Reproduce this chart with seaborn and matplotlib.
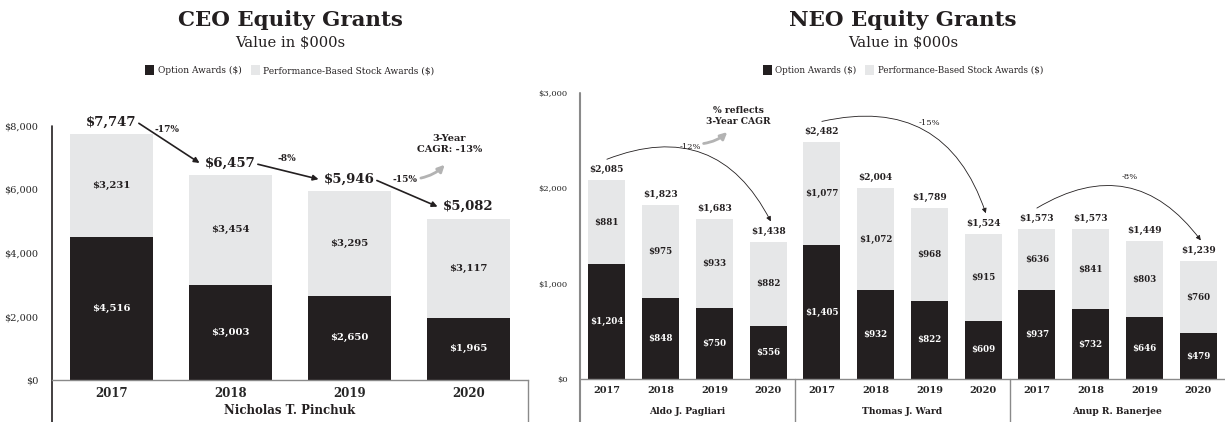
import numpy as np
import pandas as pd
import matplotlib
matplotlib.use("Agg")
import matplotlib.pyplot as plt
import seaborn as sns
from matplotlib.patches import Patch

# ---- data (values in $000s) ----
years = ["2017", "2018", "2019", "2020"]

ceo_name = "Nicholas T. Pinchuk"
ceo_option = [4516, 3003, 2650, 1965]
ceo_psa = [3231, 3454, 3295, 3117]
ceo_total = [7747, 6457, 5946, 5082]
ceo_change = ["-17%", "-8%", "-15%"]
ceo_cagr = "-13%"

neo_names = ["Aldo J. Pagliari", "Thomas J. Ward", "Anup R. Banerjee"]
neo_option = [[1204, 848, 750, 556], [1405, 932, 822, 609], [937, 732, 646, 479]]
neo_psa = [[881, 975, 933, 882], [1077, 1072, 968, 915], [636, 841, 803, 760]]
neo_total = [[2085, 1823, 1683, 1438], [2482, 2004, 1789, 1524], [1573, 1573, 1449, 1239]]
neo_cagr = ["-12%", "-15%", "-8%"]

series_names = ["Option Awards ($)", "Performance-Based Stock Awards ($)"]

BLACK = "#231f20"
GRAY = "#e6e7e8"
AXIS = "#8a8a8a"
ARROW_GRAY = "#b3b3b3"

sns.set_style("white")
plt.rcParams["font.family"] = ["DejaVu Serif"]
plt.rcParams["text.color"] = BLACK

W, H = 1225, 422
fig = plt.figure(figsize=(W / 100, H / 100), dpi=100)


def money(v):
    return "${:,}".format(v)


def legend_at(xc, fs):
    handles = [Patch(facecolor=BLACK, edgecolor="none", label=series_names[0]),
               Patch(facecolor=GRAY, edgecolor="none", label=series_names[1])]
    fig.legend(handles=handles, loc="center", bbox_to_anchor=(xc / W, 1 - 70 / H),
               ncol=2, frameon=False, fontsize=fs, handlelength=1.0, handleheight=1.4,
               handletextpad=0.4, columnspacing=1.0, borderaxespad=0)


# ================= CEO chart =================
ax1 = fig.add_axes([52 / W, 42 / H, 476 / W, 254 / H])
ceo_df = pd.DataFrame({"year": years, "option": ceo_option, "psa": ceo_psa})
ceo_df["stack"] = ceo_df["option"] + ceo_df["psa"]

sns.barplot(data=ceo_df, x="year", y="stack", color=GRAY, saturation=1, width=0.7,
            linewidth=0, errorbar=None, ax=ax1)
sns.barplot(data=ceo_df, x="year", y="option", color=BLACK, saturation=1, width=0.7,
            linewidth=0, errorbar=None, ax=ax1)

ax1.set_xlim(-0.5, 3.5)
ax1.set_ylim(0, 8000)
ax1.set_yticks(range(0, 8001, 2000))
ax1.set_yticklabels([money(v) for v in range(0, 8001, 2000)], fontsize=7)
ax1.set_xticks(range(4))
ax1.set_xticklabels(years, fontsize=8.5, fontweight="bold")
ax1.tick_params(axis="both", length=0)
ax1.tick_params(axis="y", pad=10)
ax1.tick_params(axis="x", pad=5)
ax1.set_xlabel("")
ax1.set_ylabel("")
for s in ["top", "right", "left"]:
    ax1.spines[s].set_visible(False)
ax1.spines["bottom"].set_color(AXIS)
ax1.spines["bottom"].set_linewidth(1)
ax1.plot([0, 0], [-0.165, 1.0], transform=ax1.transAxes, color=BLACK, lw=1.2, clip_on=False)
ax1.plot([1, 1], [-0.165, 0.0], transform=ax1.transAxes, color=AXIS, lw=1, clip_on=False)
ax1.text(0.5, -0.122, ceo_name, transform=ax1.transAxes, ha="center", va="center",
         fontsize=8.5, fontweight="bold")

for i in range(4):
    o, p = ceo_option[i], ceo_psa[i]
    ax1.text(i, o / 2, money(o), ha="center", va="center", color="white",
             fontsize=7.2, fontweight="bold")
    ax1.text(i, o + p / 2, money(p), ha="center", va="center", color=BLACK,
             fontsize=7.2, fontweight="bold")

lab_y = [t + 378 for t in ceo_total]
for i in range(4):
    ax1.text(i, lab_y[i], money(ceo_total[i]), ha="center", va="center",
             fontsize=9.5, fontweight="bold", clip_on=False)
for i in range(3):
    ax1.annotate("", xy=(i + 1 - 0.26, lab_y[i + 1]), xytext=(i + 0.23, lab_y[i] - 40),
                 arrowprops=dict(arrowstyle="-|>", color=BLACK, lw=1.2, mutation_scale=8,
                                 shrinkA=0, shrinkB=0), annotation_clip=False)
    ax1.text(i + 0.47, (lab_y[i] + lab_y[i + 1]) / 2 + 410, ceo_change[i], ha="center",
             va="center", fontsize=6.5, fontweight="bold")

ax1.text(2.84, 7433, "3-Year\nCAGR: " + ceo_cagr, ha="center", va="center",
         fontsize=7, fontweight="bold", linespacing=1.25)
ax1.annotate("", xy=(2.8, 6780), xytext=(2.6, 6360),
             arrowprops=dict(arrowstyle="-|>", color=ARROW_GRAY, lw=2, mutation_scale=10,
                             connectionstyle="arc3,rad=0.15", shrinkA=0, shrinkB=0))

fig.text(290 / W, 1 - 20 / H, "CEO Equity Grants", ha="center", va="center",
         fontsize=15.4, fontweight="bold")
fig.text(290 / W, 1 - 43 / H, "Value in $000s", ha="center", va="center", fontsize=10.6)
legend_at(290, 6.5)

# ================= NEO chart =================
ax2 = fig.add_axes([580 / W, 43 / H, 645 / W, 286 / H])
rows = []
for g, name in enumerate(neo_names):
    for j, yr in enumerate(years):
        rows.append({"key": name + " " + yr, "year": yr, "name": name,
                     "option": neo_option[g][j], "psa": neo_psa[g][j]})
neo_df = pd.DataFrame(rows)
neo_df["stack"] = neo_df["option"] + neo_df["psa"]
order = list(neo_df["key"])

sns.barplot(data=neo_df, x="key", y="stack", order=order, color=GRAY, saturation=1,
            width=0.69, linewidth=0, errorbar=None, ax=ax2)
sns.barplot(data=neo_df, x="key", y="option", order=order, color=BLACK, saturation=1,
            width=0.69, linewidth=0, errorbar=None, ax=ax2)

ax2.set_xlim(-0.5, 11.5)
ax2.set_ylim(0, 3000)
ax2.set_yticks(range(0, 3001, 1000))
ax2.set_yticklabels([money(v) for v in range(0, 3001, 1000)], fontsize=6)
ax2.set_xticks(range(12))
ax2.set_xticklabels(list(neo_df["year"]), fontsize=7, fontweight="bold")
ax2.tick_params(axis="both", length=0)
ax2.tick_params(axis="y", pad=9)
ax2.tick_params(axis="x", pad=5)
ax2.set_xlabel("")
ax2.set_ylabel("")
for s in ["top", "right", "left"]:
    ax2.spines[s].set_visible(False)
ax2.spines["bottom"].set_color(AXIS)
ax2.spines["bottom"].set_linewidth(1)
ax2.plot([0, 0], [-0.15, 1.0], transform=ax2.transAxes, color=AXIS, lw=1.5, clip_on=False)
trans = ax2.get_xaxis_transform()
for g in range(3):
    if g > 0:
        ax2.plot([4 * g - 0.5] * 2, [-0.15, 0.0], transform=trans, color=AXIS, lw=1,
                 clip_on=False)
    ax2.text(4 * g + 1.5, -0.113, neo_names[g], transform=trans, ha="center", va="center",
             fontsize=6.6, fontweight="bold")

for k in range(12):
    o, p = neo_df.loc[k, "option"], neo_df.loc[k, "psa"]
    ax2.text(k, o / 2, money(int(o)), ha="center", va="center", color="white",
             fontsize=6.2, fontweight="bold")
    ax2.text(k, o + p / 2, money(int(p)), ha="center", va="center", color=BLACK,
             fontsize=6.2, fontweight="bold")

for g in range(3):
    tots = neo_total[g]
    for j in range(4):
        ax2.text(4 * g + j, tots[j] + 110, money(tots[j]), ha="center", va="center",
                 fontsize=6.5, fontweight="bold", clip_on=False)
    ax2.annotate("", xy=(4 * g + 3.05, tots[3] + 215), xytext=(4 * g + 0.0, tots[0] + 220),
                 arrowprops=dict(arrowstyle="-|>", color=BLACK, lw=0.6, mutation_scale=7,
                                 connectionstyle="arc3,rad=-0.45", shrinkA=0, shrinkB=0),
                 annotation_clip=False)

cagr_pos = [(1.55, 2434), (6.01, 2685), (9.73, 2119)]
for g in range(3):
    ax2.text(cagr_pos[g][0], cagr_pos[g][1], neo_cagr[g], ha="center", va="center",
             fontsize=6)

ax2.text(2.44, 2759, "% reflects\n3-Year CAGR", ha="center", va="center",
         fontsize=6.6, fontweight="bold", linespacing=1.3)
ax2.annotate("", xy=(2.24, 2590), xytext=(1.8, 2470),
             arrowprops=dict(arrowstyle="-|>", color=ARROW_GRAY, lw=2, mutation_scale=10,
                             connectionstyle="arc3,rad=0.15", shrinkA=0, shrinkB=0))

fig.text(903 / W, 1 - 20 / H, "NEO Equity Grants", ha="center", va="center",
         fontsize=15.4, fontweight="bold")
fig.text(903 / W, 1 - 43 / H, "Value in $000s", ha="center", va="center", fontsize=10.6)
legend_at(903, 6.3)

fig.savefig("out.png", dpi=100)
